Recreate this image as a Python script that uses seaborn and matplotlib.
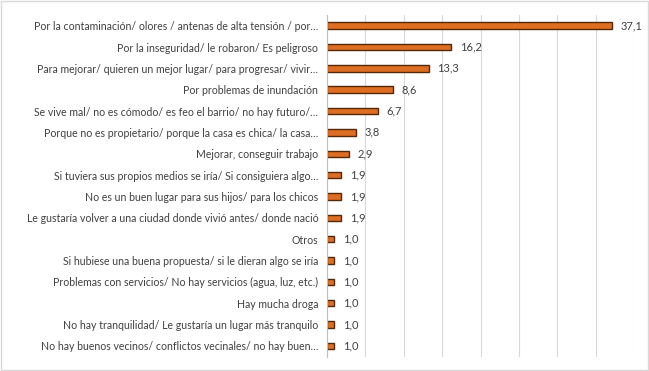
import matplotlib
matplotlib.use('Agg')
import matplotlib.pyplot as plt
import seaborn as sns
import pandas as pd
from matplotlib.patches import Rectangle

motivos = [
    'Por la contaminación/ olores / antenas de alta tensión / por…',
    'Por la inseguridad/ le robaron/ Es peligroso',
    'Para mejorar/ quieren un mejor lugar/ para progresar/ vivir…',
    'Por problemas de inundación',
    'Se vive mal/ no es cómodo/ es feo el barrio/ no hay futuro/…',
    'Porque no es propietario/ porque la casa es chica/ la casa…',
    'Mejorar, conseguir trabajo',
    'Si tuviera sus propios medios se iría/ Si consiguiera algo…',
    'No es un buen lugar para sus hijos/ para los chicos',
    'Le gustaría volver a una ciudad donde vivió antes/ donde nació',
    'Otros',
    'Si hubiese una buena propuesta/ si le dieran algo se iría',
    'Problemas con servicios/ No hay servicios (agua, luz, etc.)',
    'Hay mucha droga',
    'No hay tranquilidad/ Le gustaría un lugar más tranquilo',
    'No hay buenos vecinos/ conflictos vecinales/ no hay buen…',
]
porcentaje = [37.1, 16.2, 13.3, 8.6, 6.7, 3.8, 2.9, 1.9, 1.9, 1.9,
              1.0, 1.0, 1.0, 1.0, 1.0, 1.0]

df = pd.DataFrame({'motivo': motivos, 'pct': porcentaje})

sns.set_theme(style='white')
plt.rcParams['font.family'] = ['Lato', 'DejaVu Sans']

fig = plt.figure(figsize=(6.49, 3.71), dpi=100)
ax = fig.add_axes([0.5034, 0.039, 0.474, 0.9206])

sns.barplot(data=df, x='pct', y='motivo', orient='h', ax=ax, width=0.3,
            color='#DE6E22', edgecolor='#55280A', linewidth=1.0, saturation=1)

ax.set_xlim(0, 40)
ax.set_xticks(range(0, 41, 5))
ax.set_xticklabels([])
ax.tick_params(axis='x', length=0)
ax.tick_params(axis='y', length=0, pad=6, labelsize=7.6, labelcolor='#404040')
ax.grid(axis='x', color='#D9D9D9', linewidth=0.8)
ax.set_axisbelow(True)
ax.set_xlabel('')
ax.set_ylabel('')
for s in ['top', 'right', 'bottom']:
    ax.spines[s].set_visible(False)
ax.spines['left'].set_color('#BFBFBF')
ax.spines['left'].set_linewidth(0.8)

for i, v in enumerate(porcentaje):
    ax.annotate(f'{v:.1f}'.replace('.', ','), xy=(v, i), xytext=(6, 0),
                textcoords='offset points', va='center', ha='left',
                fontsize=8, color='#404040')

fig.patches.append(Rectangle((0.002, 0.003), 0.996, 0.994, transform=fig.transFigure,
                             fill=False, edgecolor='#D9D9D9', linewidth=1))

fig.savefig('out.png', dpi=100)
